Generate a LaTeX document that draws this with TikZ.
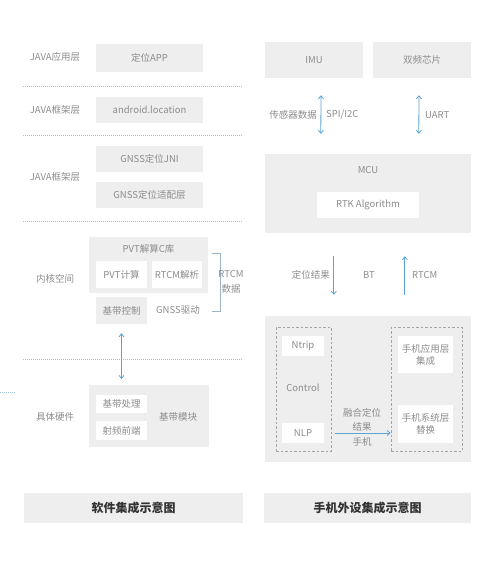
\documentclass[tikz,border=0pt]{standalone}
\usepackage{fontspec}
\setmainfont{Noto Sans CJK SC}
\usetikzlibrary{calc,arrows.meta}
\definecolor{BoxGray}{HTML}{EEEEEE}
\definecolor{TextGray}{HTML}{8C8C8C}
\definecolor{CapText}{HTML}{333333}
\definecolor{ArrowBlue}{HTML}{5AA3D4}
\definecolor{SepBlue}{HTML}{9EC4DC}
\definecolor{BracketGray}{HTML}{98B2C6}
\tikzset{%
	% Style of the grey block
	Block/.style={fill=BoxGray,inner sep=0,font=\fontsize{9.5}{12}\selectfont,text=TextGray},
	% Style of the white block inside a grey block
	WhiteBlock/.style={fill=white,inner sep=0,font=\fontsize{9.5}{12}\selectfont,text=TextGray,align=center},
	% Style of the plain text
	Label/.style={font=\fontsize{9.5}{14.5}\selectfont,text=TextGray,inner sep=0,align=center},
	% Style of the caption block
	Caption/.style={fill=BoxGray,inner sep=0,minimum height=30,font=\fontsize{12}{14}\selectfont\bfseries,text=CapText},
	% Style of the layer separator
	Separator/.style={SepBlue,line width=0.6pt,dash pattern=on 0.7pt off 1.3pt},
	% Style of the dashed frame
	Frame/.style={draw=TextGray!80,line width=0.6pt,dash pattern=on 2.5pt off 2pt,inner sep=0},
	% Style of the data arrow
	Flow/.style={ArrowBlue,line width=0.8pt,arrows={-Straight Barb[length=3pt,width=5pt]}},
	Flow2/.style={ArrowBlue,line width=0.8pt,arrows={Straight Barb[length=3pt,width=5pt]-Straight Barb[length=3pt,width=5pt]}},
}
\begin{document}
\begin{tikzpicture}[x=1pt,y=-1pt] % STYLES
\useasboundingbox (0,0) rectangle (499,563);

%~~~~~~~~~~~~~~~~~~~~~~~~~~~~~~~~~~~~~~~~~~~~~~~~~~
% Software side
%~~~~~~~~~~~~~~~~~~~~~~~~~~~~~~~~~~~~~~~~~~~~~~~~~~
\node[Label] (L1) at (55, 57) {JAVA应用层};
\node[Block, minimum width=107, minimum height=28] (App) at (149.5, 58) {定位APP};
\draw[Separator] (23, 86) -- (242, 86);

\node[Label] (L2) at (55, 110) {JAVA框架层};
\node[Block, minimum width=107, minimum height=26] (Loc) at (149.5, 110) {android.location};
\draw[Separator] (23, 135) -- (242, 135);

\node[Label] (L3) at (55, 177) {JAVA框架层};
\node[Block, minimum width=107, minimum height=26] (Jni) at (149.5, 159) {GNSS定位JNI};
\node[Block, minimum width=107, minimum height=26] (Adapt) at (149.5, 195) {GNSS定位适配层};
\draw[Separator] (23, 221) -- (242, 221);

\node[Label] (L4) at (55, 279) {内核空间};
\node[Block, minimum width=119, minimum height=56] (PvtLib) at (148.5, 265) {};
\node[Label] (PvtTitle) at (148.5, 249) {PVT解算C库};
\node[WhiteBlock, minimum width=51, minimum height=27] (PvtCalc) at (121.5, 274.5) {PVT计算};
\node[WhiteBlock, minimum width=50, minimum height=27] (RtcmParse) at (177, 274.5) {RTCM解析};
\node[Block, minimum width=51, minimum height=27] (BbCtrl) at (121.5, 310.5) {基带控制};
\node[Label] (GnssDrv) at (178, 310) {GNSS驱动};
\coordinate (BrTop) at (212, 253);
\coordinate (BrBot) at (212, 311);
\draw[BracketGray, line width=0.8pt] (BrTop) -- ++(8, 0) |- (BrBot);
\node[Label] (RtcmData) at (231, 282) {RTCM\\数据};
\draw[Separator] (23, 359) -- (242, 359);
\draw[Separator] (0, 392) -- (15, 392);

\node[Label] (L5) at (55, 417) {具体硬件};
\node[Block, minimum width=120, minimum height=62] (BbMod) at (149, 416) {};
\node[WhiteBlock, minimum width=51, minimum height=18] (BbProc) at (121.5, 404) {基带处理};
\node[WhiteBlock, minimum width=51, minimum height=19] (RfFront) at (121.5, 430.5) {射频前端};
\node[Label] (BbText) at (178, 417) {基带模块};
\coordinate (HwTop) at (121.5, 379);
\draw[Flow2] ($ (BbCtrl.south) + (0, 9) $) -- (HwTop);

%~~~~~~~~~~~~~~~~~~~~~~~~~~~~~~~~~~~~~~~~~~~~~~~~~~
% Peripheral side
%~~~~~~~~~~~~~~~~~~~~~~~~~~~~~~~~~~~~~~~~~~~~~~~~~~
\node[Block, minimum width=98, minimum height=36] (Imu) at (314, 60) {IMU};
\node[Block, minimum width=98, minimum height=36] (Chip) at (422, 60) {双频芯片};
\node[Block, minimum width=206, minimum height=79] (Mcu) at (368, 193.5) {};
\node[Label] (McuText) at (368, 170) {MCU};
\node[WhiteBlock, minimum width=102, minimum height=26] (Rtk) at (368, 205) {RTK Algorithm};

%Branch from IMU to MCU
\draw[Flow2] ($ (Imu.south) + (7, 17) $) -- ($ (Mcu.north west) + (56, -20) $);
\node[Label, anchor=east] at (317, 115) {传感器数据};
\node[Label, anchor=west] at (326, 115) {SPI/I2C};

%Branch from chip to MCU
\draw[Flow2] ($ (Chip.south) + (-3, 17) $) -- ($ (Mcu.north west) + (154, -20) $);
\node[Label, anchor=west] at (425, 115) {UART};

\node[Block, minimum width=206, minimum height=146] (Phone) at (368, 389) {};
\node[Frame, minimum width=55, minimum height=124] (LeftFrame) at (303.5, 389) {};
\node[Frame, minimum width=71, minimum height=124] (RightFrame) at (426.5, 389) {};
\node[WhiteBlock, minimum width=42, minimum height=20] (Ntrip) at (303, 346) {Ntrip};
\node[Label] (Control) at (303, 388) {Control};
\node[WhiteBlock, minimum width=42, minimum height=20] (Nlp) at (303, 433) {NLP};
\node[WhiteBlock, minimum width=55, minimum height=37] (AppInt) at (425.5, 354.5) {手机应用层\\集成};
\node[WhiteBlock, minimum width=55, minimum height=38] (SysRep) at (425.5, 424) {手机系统层\\替换};

%Branch from MCU to phone and back
\draw[Flow] ($ (Mcu.south west) + (69, 23) $) -- ($ (Phone.north west) + (69, -21) $);
\draw[Flow] ($ (Phone.north west) + (140, -21) $) -- ($ (Mcu.south west) + (140, 23) $);
\node[Label, anchor=east] at (330, 275) {定位结果};
\node[Label] (Bt) at (369, 275) {BT};
\node[Label, anchor=west] at (412, 275) {RTCM};

%Branch from NLP to phone integration
\node[Label] (Fusion) at (362, 427) {融合定位\\结果\\手机};
\draw[Flow] ($ (Nlp.east) + (11, 0) $) -- (RightFrame.west |- Nlp);

%~~~~~~~~~~~~~~~~~~~~~~~~~~~~~~~~~~~~~~~~~~~~~~~~~~
% Captions
%~~~~~~~~~~~~~~~~~~~~~~~~~~~~~~~~~~~~~~~~~~~~~~~~~~
\node[Caption, minimum width=219] (SwCap) at (133.5, 508) {软件集成示意图};
\node[Caption, minimum width=207] (HwCap) at (367.5, 508) {手机外设集成示意图};

\end{tikzpicture}
\end{document}
